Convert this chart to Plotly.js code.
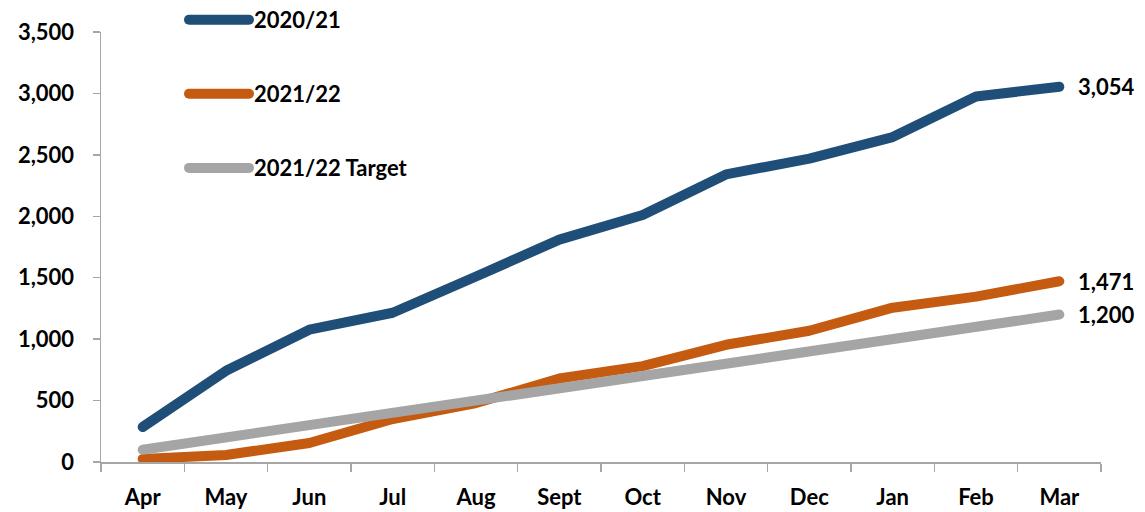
<!DOCTYPE html>
<html>
<head>
<meta charset="utf-8">
<script src="https://cdn.plot.ly/plotly-3.0.1.min.js"></script>
<style>
html,body{margin:0;padding:0;background:#fff;}
#chart{width:1145px;height:512px;}
.js-line{stroke-linecap:round;stroke-linejoin:round;}
</style>
</head>
<body>
<div id="chart"></div>
<script>
const months = ["Apr","May","Jun","Jul","Aug","Sept","Oct","Nov","Dec","Jan","Feb","Mar"];
const fy2021 = [285, 742, 1077, 1215, 1510, 1810, 2010, 2341, 2470, 2645, 2975, 3054];
const fy2122 = [25, 57, 155, 350, 480, 680, 780, 954, 1068, 1256, 1346, 1471];
const target2122 = [100, 200, 300, 400, 500, 600, 700, 800, 900, 1000, 1100, 1200];
const seriesNames = ["2020/21", "2021/22", "2021/22 Target"];
const colors = ["#1F4E79", "#C55A11", "#A5A5A5"];

const font = "Lato, 'Open Sans', sans-serif";
const fsize = 22;
const allSeries = [fy2021, fy2122, target2122];

const traces = allSeries.map((vals, i) => ({
  x: months,
  y: vals,
  type: "scatter",
  mode: "lines",
  name: seriesNames[i],
  legendgroup: "g" + i,
  line: {color: colors[i], width: 10},
  hoverinfo: "x+y"
}));

const fmt = v => v.toLocaleString("en-US");
const annotations = allSeries.map(vals => ({
  x: months[months.length - 1],
  y: vals[vals.length - 1],
  xref: "x", yref: "y",
  text: "<b>" + fmt(vals[vals.length - 1]) + "</b>",
  showarrow: false,
  xanchor: "left",
  xshift: 17,
  font: {family: font, size: fsize, color: "#000"}
}));

const layout = {
  width: 1145, height: 512,
  margin: {l: 101, r: 44, t: 32, b: 50, autoexpand: false},
  paper_bgcolor: "#fff", plot_bgcolor: "#fff",
  font: {family: font, size: fsize, color: "#000", weight: "bold"},
  showlegend: true,
  legend: {
    x: 0.083, y: 1.077, xanchor: "left", yanchor: "top",
    traceorder: "grouped", tracegroupgap: 42.5,
    itemwidth: 60,
    font: {family: font, size: fsize, color: "#000", weight: "bold"},
    bgcolor: "rgba(0,0,0,0)"
  },
  xaxis: {
    type: "category",
    range: [-0.5, 11.5],
    showgrid: false, zeroline: false,
    showline: true, linecolor: "#A6A6A6", linewidth: 1.5,
    ticks: "outside", tickson: "boundaries", ticklen: 8, tickcolor: "#A6A6A6", tickwidth: 1.5,
    ticklabelstandoff: 15,
    tickfont: {family: font, size: fsize, color: "#000", weight: "bold"}
  },
  yaxis: {
    range: [0, 3500],
    dtick: 500, tick0: 0,
    tickformat: ",d",
    showgrid: false, zeroline: false,
    showline: true, linecolor: "#A6A6A6", linewidth: 1.5,
    ticks: "outside", ticklen: 7, tickcolor: "#A6A6A6", tickwidth: 1.5,
    ticklabelstandoff: 14,
    tickfont: {family: font, size: fsize, color: "#000", weight: "bold"}
  },
  annotations: annotations
};

Plotly.newPlot("chart", traces, layout, {displayModeBar: false, staticPlot: true});
</script>
</body>
</html>
